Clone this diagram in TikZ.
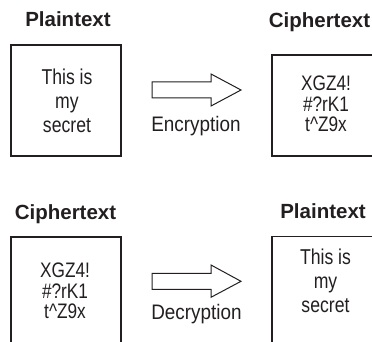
\documentclass[tikz,border=0pt]{standalone}
\usepackage{fontspec}
\setmainfont{Liberation Sans}[FakeStretch=0.9]
\newfontfamily\titlefont{Liberation Sans}
\newfontfamily\boxfont{Liberation Sans}[FakeStretch=0.82]
\definecolor{ink}{HTML}{231F20}
\begin{document}
\begin{tikzpicture}[x=1pt,y=-1pt,
  box/.style={draw=ink, line width=1.2pt, minimum width=110pt, inner sep=0pt},
  plaintxt/.style={text=ink, align=center, inner sep=0pt, anchor=north, font=\boxfont\fontsize{21.5}{24}\selectfont},
  ciphertxt/.style={text=ink, align=center, inner sep=0pt, anchor=north, font=\boxfont\fontsize{21}{20.5}\selectfont},
  title/.style={text=ink, inner sep=0pt, anchor=base, font=\titlefont\bfseries\fontsize{20.5}{24}\selectfont},
  caption/.style={text=ink, inner sep=0pt, anchor=base, font=\fontsize{21}{24}\selectfont},
  blockarrow/.style={draw=ink, line width=1pt, line join=miter}]
\useasboundingbox (0,0) rectangle (372,342);
\clip (0,0) rectangle (372,342);
% top row
\node[title] (t1) at (68,27) {Plaintext};
\node[box, minimum height=111pt] (b1) at (66,100.5) {};
\node[plaintxt] (x1) at (67,68.5) {This is\\my\\secret};
\draw[blockarrow] (152,82) -- (211,82) -- (211,74) -- (241,90) -- (211,106) -- (211,98) -- (152,98) -- cycle;
\node[caption] (enc) at (196,131.3) {Encryption};
\node[title] (t2) at (319.5,28) {Ciphertext};
\node[box, minimum height=101pt] (b2) at (327,105.5) {};
\node[ciphertxt] (x2) at (326,76) {XGZ4!\\\#?rK1\\t\textasciicircum Z9x};
% bottom row
\node[title] (t3) at (65.5,219) {Ciphertext};
\node[box, minimum height=110pt] (b3) at (66,292) {};
\node[ciphertxt] (x3) at (65,262.7) {XGZ4!\\\#?rK1\\t\textasciicircum Z9x};
\draw[blockarrow] (152,273.3) -- (211,273.3) -- (211,265) -- (241,281.3) -- (211,297.3) -- (211,289.3) -- (152,289.3) -- cycle;
\node[caption] (dec) at (196.5,319) {Decryption};
\node[title] (t4) at (323,218.5) {Plaintext};
\node[box, minimum height=110.5pt] (b4) at (327,291.75) {};
\node[plaintxt] (x4) at (325.5,249) {This is\\my\\secret};
\end{tikzpicture}
\end{document}
